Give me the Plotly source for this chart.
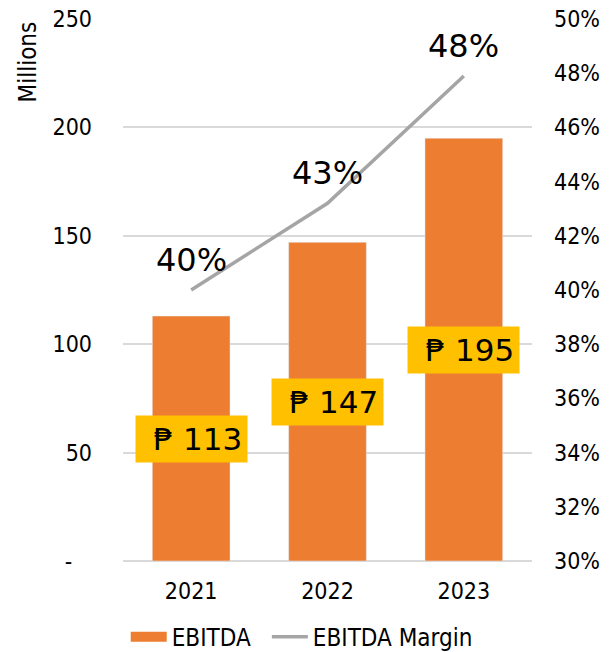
import plotly.graph_objects as go

years = ["2021", "2022", "2023"]
ebitda = [113, 147, 195]  # millions
margin = [0.40, 0.432, 0.479]
margin_labels = ["40%", "43%", "48%"]
ebitda_labels = ["₱ 113", "₱ 147", "₱ 195"]
left_ticks = [0, 50, 100, 150, 200, 250]
left_ticktext = ["-\u00a0\u00a0\u00a0", "50", "100", "150", "200", "250"]
right_ticks = [0.30, 0.32, 0.34, 0.36, 0.38, 0.40, 0.42, 0.44, 0.46, 0.48, 0.50]

FONT = "Tahoma, 'DejaVu Sans Condensed', 'DejaVu Sans', sans-serif"
BIG = "Tahoma, 'DejaVu Sans', sans-serif"
ORANGE = "#ED7D31"
GRAY = "#A5A5A5"

fig = go.Figure()
fig.add_trace(go.Bar(x=years, y=ebitda, name="EBITDA", marker_color=ORANGE,
                     width=0.57, yaxis="y", showlegend=False))
# legend-only entry drawn as a wide orange swatch
fig.add_trace(go.Scatter(x=[None], y=[None], name="EBITDA\u00a0\u2009", mode="lines",
                         line=dict(color=ORANGE, width=14), yaxis="y"))
fig.add_trace(go.Scatter(x=years, y=margin, name="EBITDA Margin", mode="lines",
                         line=dict(color=GRAY, width=3.5), yaxis="y2"))

for i, (v, t) in enumerate(zip(ebitda, ebitda_labels)):
    fig.add_annotation(x=i, y=v / 2, xref="x", yref="y", text="\u2009\u2009" + t,
                       showarrow=False, font=dict(family=BIG, size=31, color="black"),
                       bgcolor="#FFC000", borderpad=5)
for i, (v, t) in enumerate(zip(margin, margin_labels)):
    fig.add_annotation(x=i, y=v, xref="x", yref="y2", text=t, showarrow=False,
                       yanchor="bottom", yshift=9,
                       font=dict(family=BIG, size=32, color="black"))

fig.add_annotation(text="Millions", xref="paper", yref="paper", x=-0.232, y=0.92,
                   textangle=-90, showarrow=False, xanchor="center", yanchor="middle",
                   font=dict(family=FONT, size=24, color="black"))

fig.add_shape(type="line", xref="paper", yref="paper", x0=1.196, x1=1.196,
              y0=-0.2, y1=1.05, line=dict(color="#BFBFBF", width=1.5))

fig.update_layout(
    width=616, height=652,
    margin=dict(l=115, r=92, t=11, b=99, autoexpand=False),
    plot_bgcolor="white", paper_bgcolor="white",
    font=dict(family=FONT, size=23, color="black"),
    bargap=0.43,
    xaxis=dict(type="category", categoryorder="array", categoryarray=years,
               range=[-0.5, 2.5], showgrid=False, showline=False, ticks="",
               ticklabelstandoff=14, tickfont=dict(size=23), automargin=False),
    yaxis=dict(range=[0, 250], tickvals=left_ticks, ticktext=left_ticktext,
               showgrid=True, gridcolor="#D9D9D9", gridwidth=1.5,
               zeroline=True, zerolinecolor="#D9D9D9", zerolinewidth=1.5,
               showline=False, ticks="", ticklabelstandoff=30,
               ticklabeloverflow="allow",
               tickfont=dict(size=23), automargin=False),
    yaxis2=dict(range=[0.30, 0.50], tickvals=right_ticks, tickformat=".0%",
                overlaying="y", side="right", showgrid=False, zeroline=False,
                showline=False, ticks="", ticklabelstandoff=21,
                ticklabeloverflow="allow",
                tickfont=dict(size=23), automargin=False),
    legend=dict(orientation="h", x=0.437, xanchor="center",
                yref="container", y=0.035, yanchor="middle",
                font=dict(size=24), itemwidth=36, traceorder="normal",
                tracegroupgap=0),
    showlegend=True,
)

fig.write_html("out.html")
